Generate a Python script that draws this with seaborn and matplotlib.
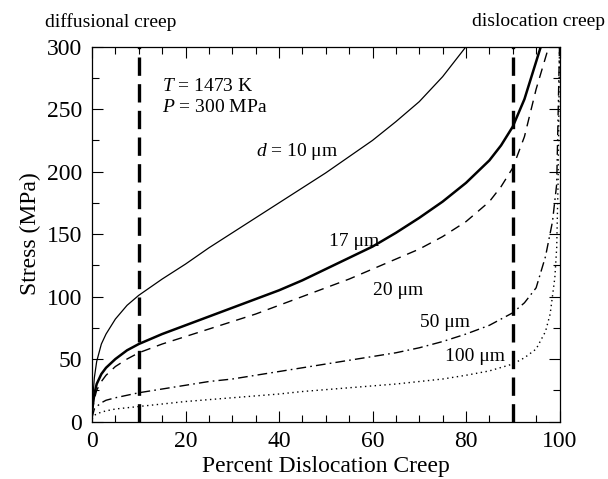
import matplotlib
matplotlib.use("Agg")
import matplotlib.pyplot as plt
from matplotlib.ticker import MultipleLocator
import seaborn as sns

sns.set_theme(style="ticks")
plt.rcParams["font.family"] = ["Liberation Serif", "DejaVu Serif"]
plt.rcParams["mathtext.fontset"] = "custom"
plt.rcParams["mathtext.rm"] = "Liberation Serif"
plt.rcParams["mathtext.it"] = "Liberation Serif:italic"

# Stress needed for a given share of dislocation creep, per grain size
x_d10 = [0, 0.5, 1, 2, 3, 5, 7.5, 10, 15, 20, 25, 30, 35, 40, 45, 50, 55, 60,
         65, 70, 75, 80]
s_d10 = [10, 35, 48, 62, 70, 82, 93, 101, 114, 126, 139, 151, 163, 175, 187,
         199, 212, 225, 240, 256, 276, 300]

x_d17 = [0, 0.5, 1, 2, 3, 5, 7.5, 10, 15, 20, 25, 30, 35, 40, 45, 50, 55, 60,
         65, 70, 75, 80, 85, 87.5, 90, 92.5, 95, 96]
s_d17 = [8, 22, 30, 38, 43, 50, 57, 62, 70, 77, 84, 91, 98, 105, 113, 122, 131,
         140, 151, 163, 176, 191, 209, 221, 236, 258, 288, 300]

x_d20 = [0, 0.5, 1, 2, 3, 5, 7.5, 10, 15, 20, 25, 30, 35, 40, 45, 50, 55, 60,
         65, 70, 75, 80, 85, 87.5, 90, 92.5, 95, 97.7]
s_d20 = [7, 18, 25, 32, 37, 44, 50, 55, 62, 68, 74, 80, 86, 93, 100, 107, 114,
         122, 130, 138, 148, 160, 176, 188, 203, 228, 266, 300]

x_d50 = [0, 0.5, 1, 2, 3, 5, 7.5, 10, 15, 20, 25, 30, 35, 40, 45, 50, 55, 60,
         65, 70, 75, 80, 85, 90, 92.5, 95, 97, 98.5, 99.4, 100]
s_d50 = [3, 10, 12, 15, 17, 19, 21, 23, 26, 29, 32, 34, 37, 40, 43, 46, 49, 52,
         55, 59, 64, 70, 77, 87, 95, 107, 132, 160, 190, 300]

x_d100 = [0, 0.5, 1, 2, 3, 5, 7.5, 10, 15, 20, 25, 30, 35, 40, 45, 50, 55, 60,
          65, 70, 75, 80, 85, 90, 92.5, 95, 97, 98, 99, 99.4, 99.7, 100]
s_d100 = [2, 5, 6, 7.5, 8.5, 10, 11, 12, 14, 16, 17.5, 19, 20.5, 22, 24, 25.5,
          27, 28.5, 30, 32, 34, 37, 40.5, 46, 51, 58, 72, 86, 115, 139, 192, 300]

# Regime boundaries (percent dislocation creep)
boundaries = [10, 90]

# Curve labels: text, x, y
curve_labels = [
    (r"$d$ = 10 μm", 35, 216),
    ("17 μm", 50.6, 144),
    ("20 μm", 60.2, 105),
    ("50 μm", 70.2, 79),
    ("100 μm", 75.5, 52),
]
conditions = [(r"$T$ = 1473 K", 14.9, 268), (r"$P$ = 300 MPa", 14.9, 251)]

fig = plt.figure(figsize=(6.08, 4.79), dpi=100)
ax = fig.add_axes([92 / 608, 1 - 421.5 / 479, 467.5 / 608, 374.8 / 479])

series = [
    (x_d10, s_d10, dict(lw=0.9, linestyle="-")),
    (x_d17, s_d17, dict(lw=1.8, linestyle="-")),
    (x_d20, s_d20, dict(lw=1.0, linestyle=(0, (7, 5)))),
    (x_d50, s_d50, dict(lw=1.0, linestyle=(0, (7, 3, 1.2, 3)))),
    (x_d100, s_d100, dict(lw=1.0, linestyle=(0, (1, 2.5)))),
]
for xs, ys, style in series:
    sns.lineplot(x=xs, y=ys, ax=ax, color="black", estimator=None,
                 sort=False, **style)

for b in boundaries:
    ax.axvline(b, color="black", lw=2.4, linestyle=(0, (5.5, 2.5)))

for text, xv, yv in curve_labels + conditions:
    ax.text(xv, yv, text, fontsize=14, ha="left", va="center",
            color="black")

ax.set_xlim(0, 100)
ax.set_ylim(0, 300)
ax.xaxis.set_major_locator(MultipleLocator(20))
ax.xaxis.set_minor_locator(MultipleLocator(5))
ax.yaxis.set_major_locator(MultipleLocator(50))
ax.yaxis.set_minor_locator(MultipleLocator(25))
ax.tick_params(which="both", direction="in", top=True, right=True,
               color="black", width=0.8)
ax.tick_params(which="major", length=8, labelsize=17, pad=7,
               labelcolor="black")
ax.tick_params(which="minor", length=5)
for sp in ax.spines.values():
    sp.set_color("black")
    sp.set_linewidth(0.9)

ax.set_xlabel("Percent Dislocation Creep", fontsize=17, color="black",
              labelpad=3)
ax.set_ylabel("Stress (MPa)", fontsize=17, color="black", labelpad=4)

fig.text(45 / 608, 1 - 22 / 479, "diffusional creep", fontsize=14,
         ha="left", va="center", color="black")
fig.text(605 / 608, 1 - 22 / 479, "dislocation creep", fontsize=14,
         ha="right", va="center", color="black")

fig.savefig("out.png", dpi=100, facecolor="white")
